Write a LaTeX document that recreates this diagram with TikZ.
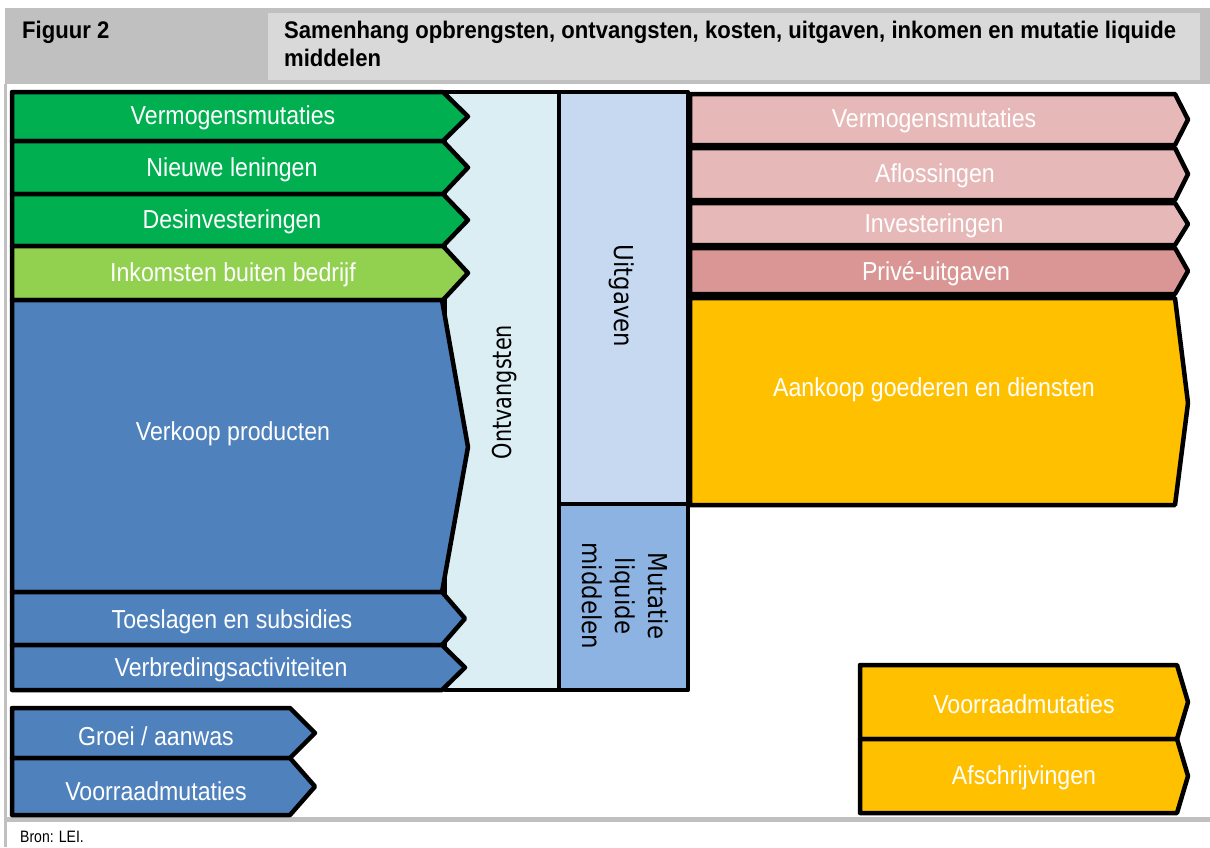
\documentclass[tikz,border=0pt]{standalone}
\usepackage{fontspec}
\setmainfont{Liberation Sans}
\newfontfamily\wfont[FakeStretch=0.89]{Liberation Sans}
\newfontfamily\hfont[FakeStretch=0.92]{Liberation Sans}
\newfontfamily\bronfont[FakeStretch=0.85]{Liberation Sans}
\newfontfamily\rfont[FakeStretch=0.8]{DejaVu Sans}
\newfontfamily\rwfont[FakeStretch=0.88]{DejaVu Sans}
\definecolor{hdark}{HTML}{C0C0C0}
\definecolor{hlight}{HTML}{D9D9D9}
\definecolor{cgreen}{HTML}{00B050}
\definecolor{clgreen}{HTML}{92D050}
\definecolor{cblue}{HTML}{4F81BD}
\definecolor{contv}{HTML}{DBEEF4}
\definecolor{cuitg}{HTML}{C6D9F1}
\definecolor{cmut}{HTML}{8DB3E2}
\definecolor{cpink}{HTML}{E6B9B8}
\definecolor{cprive}{HTML}{D99694}
\definecolor{cyel}{HTML}{FFC000}
\tikzset{
  shapebox/.style={draw=black, line width=4.5pt, line join=round},
  wl/.style={text=white, font=\wfont\fontsize{26}{30}\selectfont, inner sep=0pt, yshift=-2pt},
  rl/.style={text=black, font=\rfont\fontsize{26}{33}\selectfont, inner sep=0pt, align=center},
  rlw/.style={text=black, font=\rwfont\fontsize{26}{33}\selectfont, inner sep=0pt, align=center},
  hd/.style={anchor=base west, inner sep=0pt, font=\hfont\bfseries\fontsize{24}{28}\selectfont},
}
% arrow: #1 fill, #2 x0, #3 shoulder, #4 tip, #5 y1, #6 y2, #7 tip y
\newcommand\arrowshape[7]{%
  \filldraw[shapebox, fill=#1] (#2,#5) -- (#3,#5) -- (#4,#7) -- (#3,#6) -- (#2,#6) -- cycle;}
\begin{document}
\begin{tikzpicture}[x=1pt,y=-1pt]
\useasboundingbox (0,0) rectangle (1210,847);
% header
\fill[hdark] (5,8) rectangle (1210,84);
\fill[hlight] (268,13) rectangle (1200,80);
\fill[hdark] (4,84) rectangle (7,847);
\fill[hdark] (4,817) rectangle (1210,822);
\node[hd] (fig) at (22,38) {Figuur 2};
\node[hd] (title) at (284,38) {Samenhang opbrengsten, ontvangsten, kosten, uitgaven, inkomen en mutatie liquide};
\node[hd] (title2) at (284,66) {middelen};
\node[anchor=base west, inner sep=0pt, font=\bronfont\fontsize{16.5}{18}\selectfont] (bron) at (20,842) {Bron: LEI.};
% middle columns
\filldraw[shapebox, fill=contv] (445,92) rectangle (559,690);
\filldraw[shapebox, fill=cuitg] (559,92) rectangle (688,504);
\filldraw[shapebox, fill=cmut] (559,504) rectangle (688,690);
% left arrows
\arrowshape{cgreen}{12}{443}{468}{92}{141}{116.5}
\arrowshape{cgreen}{12}{443}{468}{141}{194}{167.5}
\arrowshape{cgreen}{12}{443}{468}{194}{246}{220}
\arrowshape{clgreen}{12}{443}{468}{246}{300}{273}
\arrowshape{cblue}{12}{442}{468}{300}{592}{447}
\arrowshape{cblue}{12}{442}{465}{592}{645}{618.5}
\arrowshape{cblue}{12}{442}{465}{645}{690}{667.5}
% right arrows
\arrowshape{cpink}{690}{1175}{1188}{94}{145}{119.5}
\arrowshape{cpink}{690}{1175}{1188}{148}{200}{174}
\arrowshape{cpink}{690}{1175}{1188}{203}{245}{224}
\arrowshape{cprive}{690}{1175}{1188}{248}{294}{271}
\arrowshape{cyel}{690}{1175}{1188}{298}{505}{403}
% bottom arrows
\arrowshape{cblue}{12}{290}{315}{708}{758}{733}
\arrowshape{cblue}{12}{290}{315}{758}{815}{786.5}
\arrowshape{cyel}{860}{1177}{1188}{665}{739}{702}
\arrowshape{cyel}{860}{1177}{1188}{739}{813}{776}
% labels left
\node[wl] (l1) at (233,116) {Vermogensmutaties};
\node[wl] (l2) at (232,168) {Nieuwe leningen};
\node[wl] (l3) at (232,220) {Desinvesteringen};
\node[wl] (l4) at (233,273) {Inkomsten buiten bedrijf};
\node[wl] (l5) at (233,432) {Verkoop producten};
\node[wl] (l6) at (232,620) {Toeslagen en subsidies};
\node[wl] (l7) at (231,668) {Verbredingsactiviteiten};
% labels right
\node[wl] (r1) at (934,119) {Vermogensmutaties};
\node[wl] (r2) at (935,174) {Aflossingen};
\node[wl] (r3) at (934,224) {Investeringen};
\node[wl] (r4) at (936,272) {Privé-uitgaven};
\node[wl] (r5) at (934,388) {Aankoop goederen en diensten};
% bottom labels
\node[wl] (b1) at (156,734) {Groei / aanwas};
\node[wl] (b2) at (156,789) {Voorraadmutaties};
\node[wl] (b3) at (1024,702) {Voorraadmutaties};
\node[wl] (b4) at (1024,776) {Afschrijvingen};
% rotated labels
\node[rl, rotate=90] (ontv) at (505,392) {Ontvangsten};
\node[rlw, rotate=-90] (uitg) at (622,296) {Uitgaven};
\node[rlw, rotate=-90] (mut) at (625,596) {Mutatie\\liquide\\middelen};
\end{tikzpicture}
\end{document}
